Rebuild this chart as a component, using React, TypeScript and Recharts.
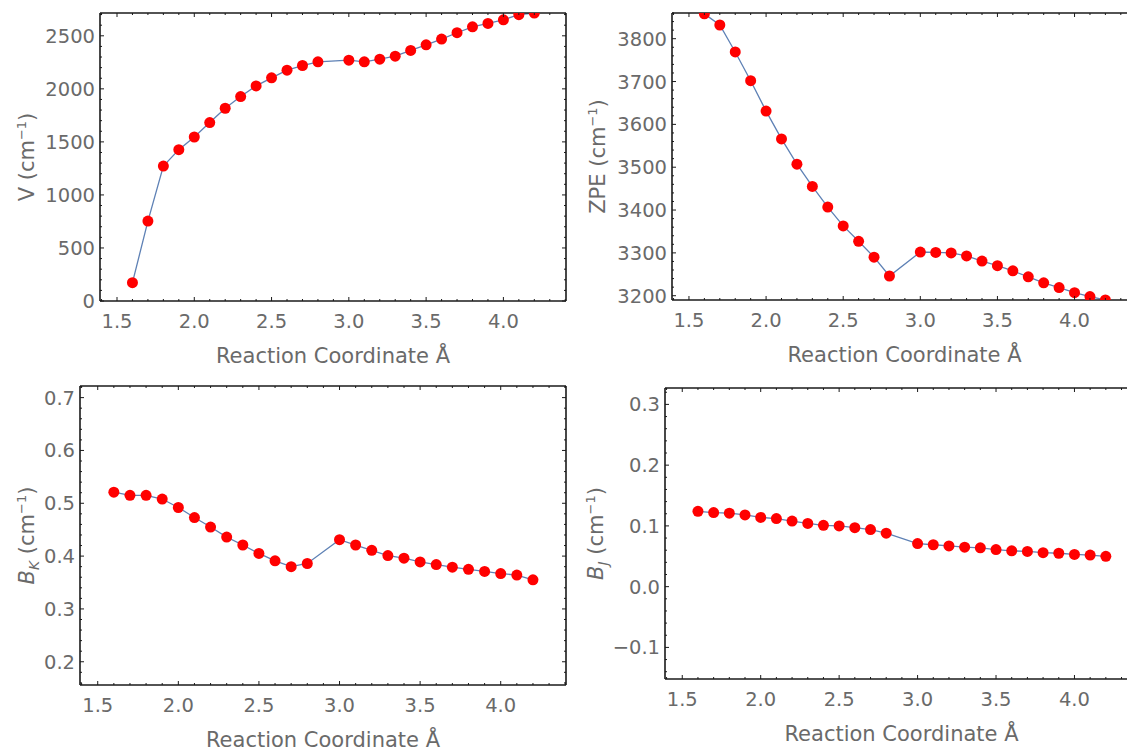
import React from "react";
import { LineChart, Line, XAxis, YAxis } from "recharts";

// Reaction coordinate (Å) – note 2.9 is missing in the scan
const REACTION_COORD = [1.6, 1.7, 1.8, 1.9, 2.0, 2.1, 2.2, 2.3, 2.4, 2.5, 2.6, 2.7, 2.8, 3.0, 3.1, 3.2, 3.3, 3.4, 3.5, 3.6, 3.7, 3.8, 3.9, 4.0, 4.1, 4.2];

const V_CM = [173, 753, 1272, 1427, 1546, 1682, 1817, 1927, 2028, 2104, 2176, 2220, 2255, 2270, 2255, 2280, 2308, 2362, 2415, 2469, 2529, 2585, 2617, 2651, 2699, 2714];
const ZPE_CM = [3858, 3832, 3769, 3702, 3631, 3566, 3507, 3455, 3407, 3363, 3327, 3290, 3246, 3302, 3301, 3300, 3293, 3281, 3270, 3258, 3244, 3230, 3219, 3207, 3198, 3190];
const BK_CM = [0.521, 0.515, 0.515, 0.508, 0.492, 0.473, 0.455, 0.436, 0.421, 0.405, 0.391, 0.38, 0.386, 0.431, 0.421, 0.411, 0.401, 0.396, 0.389, 0.384, 0.379, 0.375, 0.371, 0.367, 0.364, 0.355];
const BJ_CM = [0.124, 0.122, 0.121, 0.118, 0.114, 0.112, 0.108, 0.104, 0.101, 0.1, 0.097, 0.094, 0.088, 0.071, 0.069, 0.067, 0.065, 0.064, 0.061, 0.059, 0.058, 0.056, 0.055, 0.053, 0.052, 0.05];

// tick labels
const X_LABELS = ["1.5", "2.0", "2.5", "3.0", "3.5", "4.0"];
const V_LABELS = ["0", "500", "1000", "1500", "2000", "2500"];
const ZPE_LABELS = ["3200", "3300", "3400", "3500", "3600", "3700", "3800"];
const BK_LABELS = ["0.2", "0.3", "0.4", "0.5", "0.6", "0.7"];
const BJ_LABELS = ["\u22120.1", "0.0", "0.1", "0.2", "0.3"];

const rows = REACTION_COORD.map((x, i) => ({ x, v: V_CM[i], zpe: ZPE_CM[i], bk: BK_CM[i], bj: BJ_CM[i] }));

const FONT = "'DejaVu Sans', 'Liberation Sans', sans-serif";
const TEXT_GRAY = "#6a6a6a";
const FRAME = "#1a1a1a";
const X_DOMAIN: [number, number] = [1.39, 4.405];

const steps = (from: number, to: number, step: number) => {
  const out: number[] = [];
  for (let i = 0; from + i * step <= to + 1e-9; i++) out.push(+(from + i * step).toFixed(6));
  return out;
};
const num = (s: string) => parseFloat(s.replace("\u2212", "-"));

const X_TICKS = steps(1.4, 4.4, 0.1);

type Side = "bottom" | "top" | "left" | "right";

const FrameTick = (props: any) => {
  const { x, y, payload, side, labels } = props as { x: number; y: number; payload: { value: number }; side: Side; labels: string[] };
  const label = labels.find((l) => Math.abs(num(l) - payload.value) < 1e-6);
  const len = label ? 4 : 2;
  let line;
  if (side === "bottom") line = <line x1={x} y1={y} x2={x} y2={y - len} />;
  else if (side === "top") line = <line x1={x} y1={y} x2={x} y2={y + len} />;
  else if (side === "left") line = <line x1={x} y1={y} x2={x + len} y2={y} />;
  else line = <line x1={x} y1={y} x2={x - len} y2={y} />;
  return (
    <g>
      <g stroke={FRAME} strokeWidth={1}>{line}</g>
      {label && side === "bottom" && (
        <text x={x} y={y + 20} dy="0.36em" textAnchor="middle" fill={TEXT_GRAY} fontSize={19.5} fontFamily={FONT}>
          {label}
        </text>
      )}
      {label && side === "left" && (
        <text x={x - 5} y={y} dy="0.36em" textAnchor="end" fill={TEXT_GRAY} fontSize={19.5} fontFamily={FONT}>
          {label}
        </text>
      )}
    </g>
  );
};

const XTitle = (props: any) => {
  const vb = props.viewBox;
  return (
    <text x={vb.x + vb.width / 2} y={vb.y + 54} dy="0.36em" textAnchor="middle" fill={TEXT_GRAY} fontSize={21} fontFamily={FONT}>
      Reaction Coordinate Å
    </text>
  );
};

const YTitle = (props: any) => {
  const { viewBox: vb, gap, main, sub } = props;
  const cx = vb.x + vb.width - gap;
  const cy = vb.y + vb.height / 2;
  return (
    <text transform={`translate(${cx},${cy}) rotate(-90)`} textAnchor="middle" dy="0.36em" fill={TEXT_GRAY} fontSize={21} fontFamily={FONT}>
      {sub ? (
        <>
          <tspan fontStyle="italic">{main}</tspan>
          <tspan fontStyle="italic" fontSize={14} dy={5}>{sub}</tspan>
          <tspan dy={-5}>{" (cm"}</tspan>
        </>
      ) : (
        <tspan>{main + " (cm"}</tspan>
      )}
      <tspan fontSize={13} dy={-8}>{"\u22121"}</tspan>
      <tspan dy={8}>)</tspan>
    </text>
  );
};

type PanelProps = {
  left: number;
  top: number;
  width: number;
  height: number;
  marginTop: number;
  marginRight: number;
  yAxisWidth: number;
  xAxisHeight: number;
  dataKey: string;
  yDomain: [number, number];
  yTicks: number[];
  yLabels: string[];
  titleGap: number;
  titleMain: string;
  titleSub?: string;
};

// top / right axes only carry the frame line and inward ticks
const Panel = (p: PanelProps) => (
  <div style={{ position: "absolute", left: p.left, top: p.top }}>
    <LineChart width={p.width} height={p.height} data={rows} margin={{ top: p.marginTop - 1, right: p.marginRight - 1, bottom: 0, left: 0 }}>
      <XAxis
        xAxisId="b"
        dataKey="x"
        type="number"
        domain={X_DOMAIN}
        allowDataOverflow
        ticks={X_TICKS}
        interval={0}
        height={p.xAxisHeight}
        tickSize={0}
        tickMargin={0}
        tickLine={false}
        axisLine={{ stroke: FRAME, strokeWidth: 1.6 }}
        tick={<FrameTick side="bottom" labels={X_LABELS} />}
        label={(lp: any) => <XTitle {...lp} />}
      />
      <XAxis
        xAxisId="t"
        orientation="top"
        dataKey="x"
        type="number"
        domain={X_DOMAIN}
        allowDataOverflow
        ticks={X_TICKS}
        interval={0}
        height={1}
        tickSize={0}
        tickMargin={0}
        tickLine={false}
        axisLine={{ stroke: FRAME, strokeWidth: 1.6 }}
        tick={<FrameTick side="top" labels={X_LABELS} />}
      />
      <YAxis
        yAxisId="l"
        type="number"
        domain={p.yDomain}
        allowDataOverflow
        ticks={p.yTicks}
        interval={0}
        width={p.yAxisWidth}
        tickSize={0}
        tickMargin={0}
        tickLine={false}
        axisLine={{ stroke: FRAME, strokeWidth: 1.6 }}
        tick={<FrameTick side="left" labels={p.yLabels} />}
        label={(lp: any) => <YTitle {...lp} gap={p.titleGap} main={p.titleMain} sub={p.titleSub} />}
      />
      <YAxis
        yAxisId="r"
        orientation="right"
        dataKey={p.dataKey}
        type="number"
        domain={p.yDomain}
        allowDataOverflow
        ticks={p.yTicks}
        interval={0}
        width={1}
        tickSize={0}
        tickMargin={0}
        tickLine={false}
        axisLine={{ stroke: FRAME, strokeWidth: 1.6 }}
        tick={<FrameTick side="right" labels={p.yLabels} />}
      />
      <Line
        xAxisId="b"
        yAxisId="l"
        type="linear"
        dataKey={p.dataKey}
        stroke="#5E81B5"
        strokeWidth={1.3}
        dot={{ r: 5.5, fill: "#ff0000", stroke: "#ff0000", strokeWidth: 0 }}
        activeDot={false}
        isAnimationActive={false}
      />
    </LineChart>
  </div>
);

export default function App() {
  return (
    <div style={{ position: "absolute", left: 0, top: 0, width: 1127, height: 752, overflow: "hidden", background: "#fff" }}>
      <Panel left={0} top={0} width={600} height={375} marginTop={13} marginRight={34} yAxisWidth={100} xAxisHeight={74}
        dataKey="v" yDomain={[0, 2715]} yTicks={steps(0, 2700, 100)} yLabels={V_LABELS} titleGap={74} titleMain="V" />
      <Panel left={560} top={0} width={600} height={375} marginTop={13} marginRight={23} yAxisWidth={112} xAxisHeight={75}
        dataKey="zpe" yDomain={[3190, 3860]} yTicks={steps(3200, 3860, 20)} yLabels={ZPE_LABELS} titleGap={75} titleMain="ZPE" />
      <Panel left={0} top={375} width={600} height={377} marginTop={11} marginRight={34} yAxisWidth={80} xAxisHeight={67}
        dataKey="bk" yDomain={[0.156, 0.722]} yTicks={steps(0.16, 0.72, 0.02)} yLabels={BK_LABELS} titleGap={54} titleMain="B" titleSub="K" />
      <Panel left={560} top={375} width={600} height={377} marginTop={13} marginRight={22} yAxisWidth={105} xAxisHeight={73}
        dataKey="bj" yDomain={[-0.152, 0.327]} yTicks={steps(-0.14, 0.32, 0.02)} yLabels={BJ_LABELS} titleGap={70} titleMain="B" titleSub="J" />
    </div>
  );
}
